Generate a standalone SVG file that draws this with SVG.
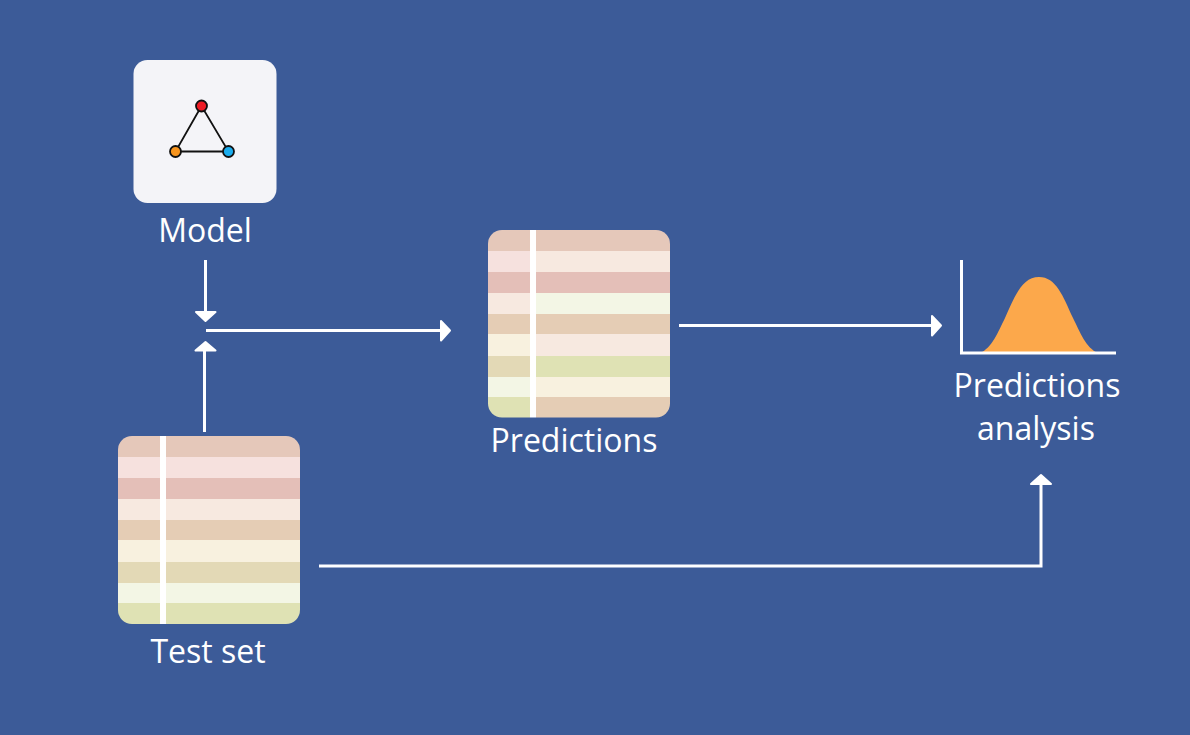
<svg xmlns="http://www.w3.org/2000/svg" width="1190" height="735" viewBox="0 0 1190 735">
<style>
.lbl{font-family:"Open Sans","Noto Sans",sans-serif;font-size:32px;fill:#fff;text-anchor:middle}
.ln{fill:none;stroke:#fff;stroke-width:3}
.hd{fill:#fff;stroke:#fff;stroke-width:2;stroke-linejoin:round}
.e{stroke:#111;stroke-width:1.8;fill:none}
.n{stroke:#111;stroke-width:1.8}
.a{fill:#e5c8ba}.b{fill:#f6e1de}.c{fill:#e4bfb8}.d{fill:#f7e9e0}.f{fill:#e5cdb5}.g{fill:#f8f1df}.h{fill:#e3d9b6}.i{fill:#f3f6e5}.j{fill:#dfe2b4}
</style>
<defs>
<clipPath id="c1"><rect x="118" y="436" width="182" height="188" rx="14"/></clipPath>
<clipPath id="c2"><rect x="488" y="230" width="182" height="187.5" rx="14"/></clipPath>
</defs>
<rect width="1190" height="735" fill="#3c5b98"/>
<g id="model">
<rect x="133.500" y="60" width="143" height="143" rx="14" fill="#f4f4f8"/>
<path class="e" d="M201.500 106L175.500 151.500H228.500Z"/>
<circle class="n" cx="201.500" cy="106" r="5.500" fill="#ee1c25"/>
<circle class="n" cx="175.500" cy="151.500" r="5.500" fill="#f7941d"/>
<circle class="n" cx="228.500" cy="151.500" r="5.500" fill="#1badee"/>
<text class="lbl" x="205" y="242">Model</text>
</g>
<g id="test-set">
<g clip-path="url(#c1)">
<rect class="a" x="118" y="436" width="182" height="21"/>
<rect class="b" x="118" y="457" width="182" height="21"/>
<rect class="c" x="118" y="478" width="182" height="21"/>
<rect class="d" x="118" y="499" width="182" height="21"/>
<rect class="f" x="118" y="520" width="182" height="20"/>
<rect class="g" x="118" y="540" width="182" height="22"/>
<rect class="h" x="118" y="562" width="182" height="21"/>
<rect class="i" x="118" y="583" width="182" height="20"/>
<rect class="j" x="118" y="603" width="182" height="21"/>
<rect x="160" y="436" width="6" height="188" fill="#fff"/>
</g>
<text class="lbl" x="208" y="663">Test set</text>
</g>
<g id="predictions">
<g clip-path="url(#c2)">
<rect class="a" x="488" y="230" width="42" height="21"/><rect class="a" x="536" y="230" width="134" height="21"/>
<rect class="b" x="488" y="251" width="42" height="21"/><rect class="d" x="536" y="251" width="134" height="21"/>
<rect class="c" x="488" y="272" width="42" height="21"/><rect class="c" x="536" y="272" width="134" height="21"/>
<rect class="d" x="488" y="293" width="42" height="21"/><rect class="i" x="536" y="293" width="134" height="21"/>
<rect class="f" x="488" y="314" width="42" height="20"/><rect class="f" x="536" y="314" width="134" height="20"/>
<rect class="g" x="488" y="334" width="42" height="22"/><rect class="d" x="536" y="334" width="134" height="22"/>
<rect class="h" x="488" y="356" width="42" height="21"/><rect class="j" x="536" y="356" width="134" height="21"/>
<rect class="i" x="488" y="377" width="42" height="20"/><rect class="g" x="536" y="377" width="134" height="20"/>
<rect class="j" x="488" y="397" width="42" height="21"/><rect class="f" x="536" y="397" width="134" height="21"/>
<rect x="530" y="230" width="6" height="188" fill="#fff"/>
</g>
<text class="lbl" x="574" y="452">Predictions</text>
</g>
<g id="predictions-analysis">
<path d="M980 353C992 348 998 332 1005 318C1015 296 1022 277 1039 277C1056 277 1063 296 1073 318C1080 332 1086 348 1098 353Z" fill="#fca84b"/>
<path class="ln" d="M961.500 260V353H1116"/>
<text class="lbl" x="1037" y="397">Predictions</text>
<text class="lbl" x="1036" y="440">analysis</text>
</g>
<g id="connectors">
<path class="ln" d="M205.500 260V312"/>
<path class="hd" d="M196 312H215.500L205.500 321Z"/>
<path class="ln" d="M204.500 432V350"/>
<path class="hd" d="M195.500 350.500H215.500L205.500 342Z"/>
<path class="ln" d="M206 330.500H441"/>
<path class="hd" d="M441 321V340.500L450 330.500Z"/>
<path class="ln" d="M679 325.500H932"/>
<path class="hd" d="M932 316V335.500L941 325.500Z"/>
<path class="ln" d="M319 566H1041V484"/>
<path class="hd" d="M1031 484H1051L1041 475Z"/>
</g>
</svg>
